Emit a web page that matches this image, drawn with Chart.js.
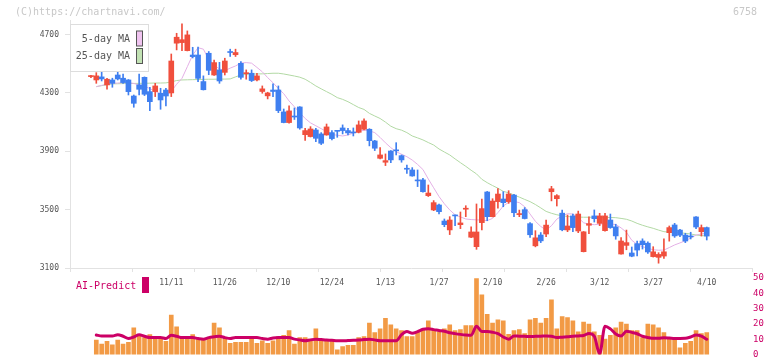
<!DOCTYPE html>
<html><head><meta charset="utf-8">
<script src="https://cdn.jsdelivr.net/npm/chart.js@4/dist/chart.umd.min.js"></script>
<style>
html,body{margin:0;padding:0;background:#fff;}
#wrap{position:relative;width:772px;height:361px;}
canvas{position:absolute;left:0;top:0;}
</style>
</head><body>
<div id="wrap"><canvas id="price" width="772" height="361"></canvas><canvas id="vol" width="772" height="361"></canvas></div>
<script>
// ---------- data ----------
const dates = ['10/20','10/21','10/22','10/23','10/24','10/27','10/28','10/29','10/30','10/31','11/4','11/5','11/6','11/7','11/10','11/11','11/12','11/13','11/14','11/17','11/18','11/19','11/20','11/21','11/25','11/26','11/27','11/28','12/1','12/2','12/3','12/4','12/5','12/8','12/9','12/10','12/11','12/12','12/15','12/16','12/17','12/18','12/19','12/22','12/23','12/24','12/25','12/26','12/29','12/30','1/5','1/6','1/7','1/8','1/9','1/13','1/14','1/15','1/16','1/19','1/20','1/21','1/22','1/23','1/26','1/27','1/28','1/29','1/30','2/2','2/3','2/4','2/5','2/6','2/9','2/10','2/12','2/13','2/16','2/17','2/18','2/19','2/20','2/24','2/25','2/26','2/27','3/2','3/3','3/4','3/5','3/6','3/9','3/10','3/11','3/12','3/13','3/16','3/17','3/18','3/19','3/23','3/24','3/25','3/26','3/27','3/30','3/31','4/1','4/2','4/3','4/6','4/7','4/8','4/9','4/10'];

const opens = [4412,
 4389,4410,4355,4389,4423,4401,4389,4279,4355,4407,
 4309,4309,4298,4320,4300,4641,4645,4590,4560,4560,
 4378,4572,4423,4458,4441,4580,4562,4503,4432,4435,
 4389,4310,4280,4320,4320,4170,4097,4141,4204,4014,
 4001,4046,4019,4012,4028,4040,4060,4042,4030,4030,
 4051,4051,3971,3852,3825,3902,3907,3870,3781,3772,
 3701,3704,3596,3498,3532,3422,3361,3460,3397,3503,
 3311,3246,3411,3621,3452,3555,3573,3555,3600,3466,
 3500,3404,3252,3326,3333,3623,3575,3476,3361,3457,
 3354,3212,3393,3457,3406,3356,3429,3382,3196,3255,
 3203,3267,3285,3270,3178,3173,3182,3342,3395,3360,
 3326,3317,3450,3349,3377];
const highs = [4420,
 4439,4444,4400,4401,4458,4430,4392,4286,4430,4410,
 4339,4366,4332,4332,4567,4709,4773,4725,4613,4615,
 4417,4584,4526,4510,4538,4600,4600,4515,4458,4458,
 4435,4348,4305,4362,4348,4190,4211,4197,4206,4058,
 4069,4058,4028,4087,4042,4042,4081,4058,4060,4108,
 4122,4055,3975,3925,3882,3905,3959,3875,3806,3788,
 3772,3715,3669,3562,3539,3436,3452,3463,3484,3527,
 3383,3539,3573,3625,3575,3644,3623,3630,3605,3497,
 3514,3411,3356,3343,3429,3660,3603,3497,3463,3470,
 3490,3350,3450,3498,3475,3475,3470,3400,3308,3360,
 3244,3285,3300,3280,3246,3205,3300,3388,3406,3365,
 3338,3345,3452,3395,3381];
const lows = [4405,
 4366,4382,4325,4339,4389,4366,4286,4202,4286,4282,
 4179,4275,4188,4211,4275,4595,4590,4588,4540,4378,
 4320,4425,4420,4366,4423,4550,4550,4394,4394,4378,
 4382,4298,4259,4275,4165,4095,4093,4118,4051,3975,
 3998,3966,3946,4010,3978,3996,4019,4012,4005,4026,
 4046,3937,3905,3848,3802,3822,3875,3825,3749,3729,
 3658,3620,3590,3493,3470,3383,3329,3390,3370,3452,
 3308,3228,3361,3424,3450,3510,3520,3543,3452,3452,
 3436,3310,3245,3274,3315,3560,3525,3355,3349,3349,
 3342,3210,3335,3415,3390,3352,3372,3297,3194,3225,
 3177,3182,3230,3200,3175,3133,3166,3284,3310,3315,
 3274,3299,3370,3319,3292];
const closes = [4415,
 4417,4396,4394,4366,4396,4371,4309,4229,4325,4291,
 4240,4348,4252,4279,4519,4682,4665,4698,4549,4400,
 4322,4455,4508,4382,4519,4577,4577,4407,4437,4385,
 4417,4328,4300,4310,4179,4097,4177,4135,4060,4042,
 4053,3989,3955,4067,3987,4037,4042,4026,4026,4081,
 4108,3973,3921,3875,3836,3841,3903,3841,3777,3731,
 3697,3623,3614,3548,3486,3397,3429,3457,3409,3507,
 3347,3347,3507,3452,3559,3607,3548,3607,3479,3470,
 3439,3328,3307,3286,3394,3643,3596,3362,3388,3377,
 3470,3348,3404,3438,3457,3457,3377,3320,3285,3274,
 3181,3223,3260,3210,3211,3193,3211,3377,3320,3325,
 3285,3313,3381,3377,3319];
const ma5 = [null,
 4343,4352,4360,4366,4368,4370,4371,4365,4355,4346,
 4330,4310,4295,4280,4310,4360,4400,4480,4560,4610,
 4600,4530,4490,4465,4453,4470,4485,4505,4508,4504,
 4475,4445,4405,4370,4330,4295,4245,4205,4165,4125,
 4095,4075,4055,4035,4015,4010,4005,4012,4025,4035,
 4045,4040,4028,3995,3958,3925,3897,3880,3863,3840,
 3810,3775,3710,3650,3590,3540,3498,3465,3450,3436,
 3432,3430,3428,3425,3440,3480,3525,3550,3556,3548,
 3520,3470,3420,3385,3360,3390,3435,3458,3472,3470,
 3445,3410,3400,3397,3400,3406,3402,3398,3375,3345,
 3290,3262,3246,3235,3225,3222,3223,3240,3258,3272,
 3287,3305,3326,3333,3338];
const ma25 = [null,
 4343,4350,4356,4362,4363,4364,4365,4365,4366,4366,
 4367,4368,4368,4369,4376,4385,4389,4390,4391,4392,
 4393,4394,4394,4395,4395,4396,4410,4423,4427,4430,
 4430,4431,4433,4435,4435,4430,4423,4416,4408,4394,
 4372,4348,4328,4309,4290,4268,4256,4240,4220,4200,
 4187,4160,4142,4125,4100,4072,4055,4045,4028,4005,
 3992,3978,3960,3943,3916,3895,3875,3848,3822,3797,
 3770,3745,3708,3685,3665,3647,3625,3616,3600,3586,
 3570,3555,3535,3512,3488,3475,3465,3458,3453,3450,
 3449,3448,3448,3448,3448,3447,3446,3445,3440,3434,
 3422,3406,3393,3382,3372,3360,3349,3346,3344,3341,
 3338,3333,3326,3322,3319];
const volume = [null,
 9.4,6.9,8.6,6.3,9.4,6.9,8.0,17.4,13.2,11.1,
 13.0,11.1,11.1,8.6,25.8,18.1,11.1,11.1,13.0,10.1,
 10.1,11.1,20.6,17.4,10.1,7.4,8.0,8.0,8.0,10.1,
 7.4,9.0,7.4,9.0,11.6,12.6,15.7,6.9,11.1,11.1,
 10.1,16.8,9.4,8.6,9.4,3.1,5.3,6.1,6.1,11.1,
 11.8,20.6,14.3,16.8,23.7,19.5,16.8,15.7,11.8,11.8,
 14.3,16.0,22.0,16.0,14.9,16.8,19.5,15.7,16.4,18.9,
 18.9,49.6,39.0,26.3,20.6,22.7,22.0,13.2,15.7,16.4,
 13.7,22.7,23.7,20.6,23.7,35.7,16.8,24.8,24.2,22.0,
 14.9,21.2,20.0,14.9,12.6,10.1,12.6,17.4,21.2,20.0,
 15.7,15.7,11.1,20.0,19.5,17.4,14.3,11.1,10.1,4.4,
 7.4,8.6,15.7,13.7,14.3];
const aiPredict = [null,
 12.8,12.2,12.2,12.2,13.0,12.0,10.5,11.5,13.0,12.0,
 11.1,11.1,11.1,10.5,12.6,12.0,11.1,11.1,11.1,10.5,
 10.1,11.1,11.6,12.0,11.1,10.5,11.1,11.1,11.1,11.1,
 11.1,10.5,10.1,10.8,11.1,11.1,11.1,10.1,9.6,9.0,
 9.6,10.1,9.8,9.5,9.3,9.0,9.0,9.2,9.4,9.5,
 9.8,10.1,9.6,9.0,9.0,9.0,9.0,13.0,15.0,14.0,
 15.0,16.5,16.8,16.3,15.7,15.2,14.3,13.7,13.2,12.8,
 12.6,18.5,15.0,15.0,14.6,13.7,11.5,10.1,12.2,12.0,
 11.9,11.8,11.9,12.0,12.2,12.0,11.1,11.4,11.6,12.0,
 12.2,12.5,13.8,12.0,0.5,18.5,16.8,13.5,12.2,15.3,
 14.5,13.6,12.0,11.2,10.6,10.6,11.0,10.8,10.5,10.5,
 10.6,11.5,12.8,12.0,10.0];
const priceTicks = [3100, 3500, 3900, 4300, 4700];
const dateTicks = ['11/11','11/26','12/10','12/24','1/13','1/27','2/10','2/26','3/12','3/27','4/10'];
const volTicks = [0, 10, 20, 30, 40, 50];
const watermark = '(C)https://chartnavi.com/';
const code = '6758';

// ---------- style ----------
const MONO = '"DejaVu Sans Mono", monospace';
const UP = '#f04f3d', DOWN = '#3f7ff0';
const MA5C = '#e4b0e6', MA25C = '#b2d9a4';
const AXIS = '#e2e2e2', LABEL = '#555555', MAG = '#cc0066', ORANGE = '#f29a45';
const xMin = -3.912, xMax = 123.45;
const pts = arr => arr.map((v, k) => ({x: k, y: v}));
const bodyColors = opens.map((o, k) => closes[k] >= o ? UP : DOWN);

const overlayA = {
  id: 'overlayA',
  afterDraw(chart) {
    const c = chart.ctx;
    c.save();
    c.font = '10px ' + MONO;
    c.textBaseline = 'middle';
    c.fillStyle = '#c8c8c8';
    c.textAlign = 'left';
    c.fillText(watermark, 15, 12);
    c.textAlign = 'right';
    c.fillText(code, 757, 12);
    // legend box
    c.fillStyle = '#ffffff';
    c.fillRect(70.5, 24.5, 78, 47);
    c.strokeStyle = '#dddddd';
    c.lineWidth = 1;
    c.strokeRect(70.5, 24.5, 78, 47);
    const items = chart.data.datasets.filter(d => d.type === 'line');
    items.forEach((d, k) => {
      const y = 38.5 + k * 17.5;
      c.fillStyle = LABEL;
      c.textAlign = 'right';
      c.fillText(d.label, 130, y + 0.5);
      c.fillStyle = d.legendFill;
      c.fillRect(136.5, y - 7.5, 6, 15);
      c.strokeStyle = '#555';
      c.strokeRect(136.5, y - 7.5, 6, 15);
    });
    c.restore();
  }
};

new Chart(document.getElementById('price'), {
  type: 'bar',
  data: { datasets: [
    { type: 'bar', label: 'body', data: opens.map((o, k) => ({x: k, y: [o, closes[k]]})),
      backgroundColor: bodyColors, barThickness: 5, minBarLength: 1, grouped: false, order: 1 },
    { type: 'bar', label: 'wick', data: lows.map((l, k) => ({x: k, y: [l, highs[k]]})),
      backgroundColor: bodyColors, barThickness: 1, grouped: false, order: 2 },
    { type: 'line', label: '5-day MA', data: pts(ma5), borderColor: MA5C, legendFill: '#f0c4f0',
      borderWidth: 1, pointRadius: 0, order: 3 },
    { type: 'line', label: '25-day MA', data: pts(ma25), borderColor: MA25C, legendFill: '#c2e2b4',
      borderWidth: 1, pointRadius: 0, order: 4 }
  ]},
  options: {
    responsive: false, animation: false, devicePixelRatio: 1, events: [],
    layout: { padding: { left: 0, right: 20, top: 20, bottom: 69 } },
    plugins: { legend: { display: false }, tooltip: { enabled: false } },
    scales: {
      x: {
        type: 'linear', min: xMin, max: xMax, offset: false,
        afterBuildTicks: s => { s.ticks = Array.from({length: 12}, (_, k) => ({value: xMin + k * (xMax - xMin) / 11})); },
        ticks: { display: false },
        grid: { display: true, drawOnChartArea: false, drawTicks: true, tickLength: 4, color: AXIS, offset: false },
        border: { display: true, color: AXIS },
        afterFit: s => { s.height = 4; }
      },
      x2: {
        type: 'linear', position: 'bottom', min: xMin, max: xMax, offset: false,
        afterBuildTicks: s => { s.ticks = dateTicks.map(l => ({value: dates.indexOf(l)})); },
        ticks: { callback: v => dates[v], font: { family: MONO, size: 8 }, color: LABEL,
                 padding: 6, maxRotation: 0, autoSkip: false },
        grid: { display: false, drawTicks: false },
        border: { display: false },
        afterFit: s => { s.height = 20; }
      },
      y: {
        type: 'linear', position: 'left', min: 3100, max: 4800,
        afterBuildTicks: s => { s.ticks = priceTicks.map(v => ({value: v})); },
        ticks: { callback: v => String(v), font: { family: MONO, size: 8 }, color: LABEL, padding: 6 },
        grid: { drawOnChartArea: false, drawTicks: true, tickLength: 5, color: AXIS },
        border: { display: true, color: AXIS },
        afterFit: s => { s.width = 70; }
      }
    }
  },
  plugins: [overlayA]
});

const overlayB = {
  id: 'overlayB',
  afterDraw(chart) {
    const c = chart.ctx;
    c.save();
    c.font = '10px ' + MONO;
    c.textBaseline = 'middle';
    c.textAlign = 'left';
    c.fillStyle = MAG;
    c.fillText(chart.data.datasets[0].label, 76, 286);
    c.fillRect(142, 277, 7, 16);
    c.restore();
  }
};

new Chart(document.getElementById('vol'), {
  type: 'bar',
  data: { datasets: [
    { type: 'line', label: 'AI-Predict', data: pts(aiPredict), borderColor: MAG, borderWidth: 3,
      pointRadius: 0, cubicInterpolationMode: 'monotone', borderJoinStyle: 'round', borderCapStyle: 'round', order: 0 },
    { type: 'bar', label: 'volume', data: pts(volume), backgroundColor: ORANGE,
      barThickness: 4, grouped: false, order: 1 }
  ]},
  options: {
    responsive: false, animation: false, devicePixelRatio: 1, events: [],
    layout: { padding: { left: 70, right: 0, top: 278, bottom: 3 } },
    plugins: { legend: { display: false }, tooltip: { enabled: false } },
    scales: {
      x: { type: 'linear', min: xMin, max: xMax, offset: false, display: false },
      y: {
        type: 'linear', position: 'right', min: 0, max: 50,
        afterBuildTicks: s => { s.ticks = volTicks.map(v => ({value: v})); },
        ticks: { callback: v => String(v), font: { family: MONO, size: 9 }, color: MAG, padding: 1 },
        grid: { display: false, drawTicks: false },
        border: { display: false },
        afterFit: s => { s.width = 20; }
      }
    }
  },
  plugins: [overlayB]
});
</script>
</body></html>
